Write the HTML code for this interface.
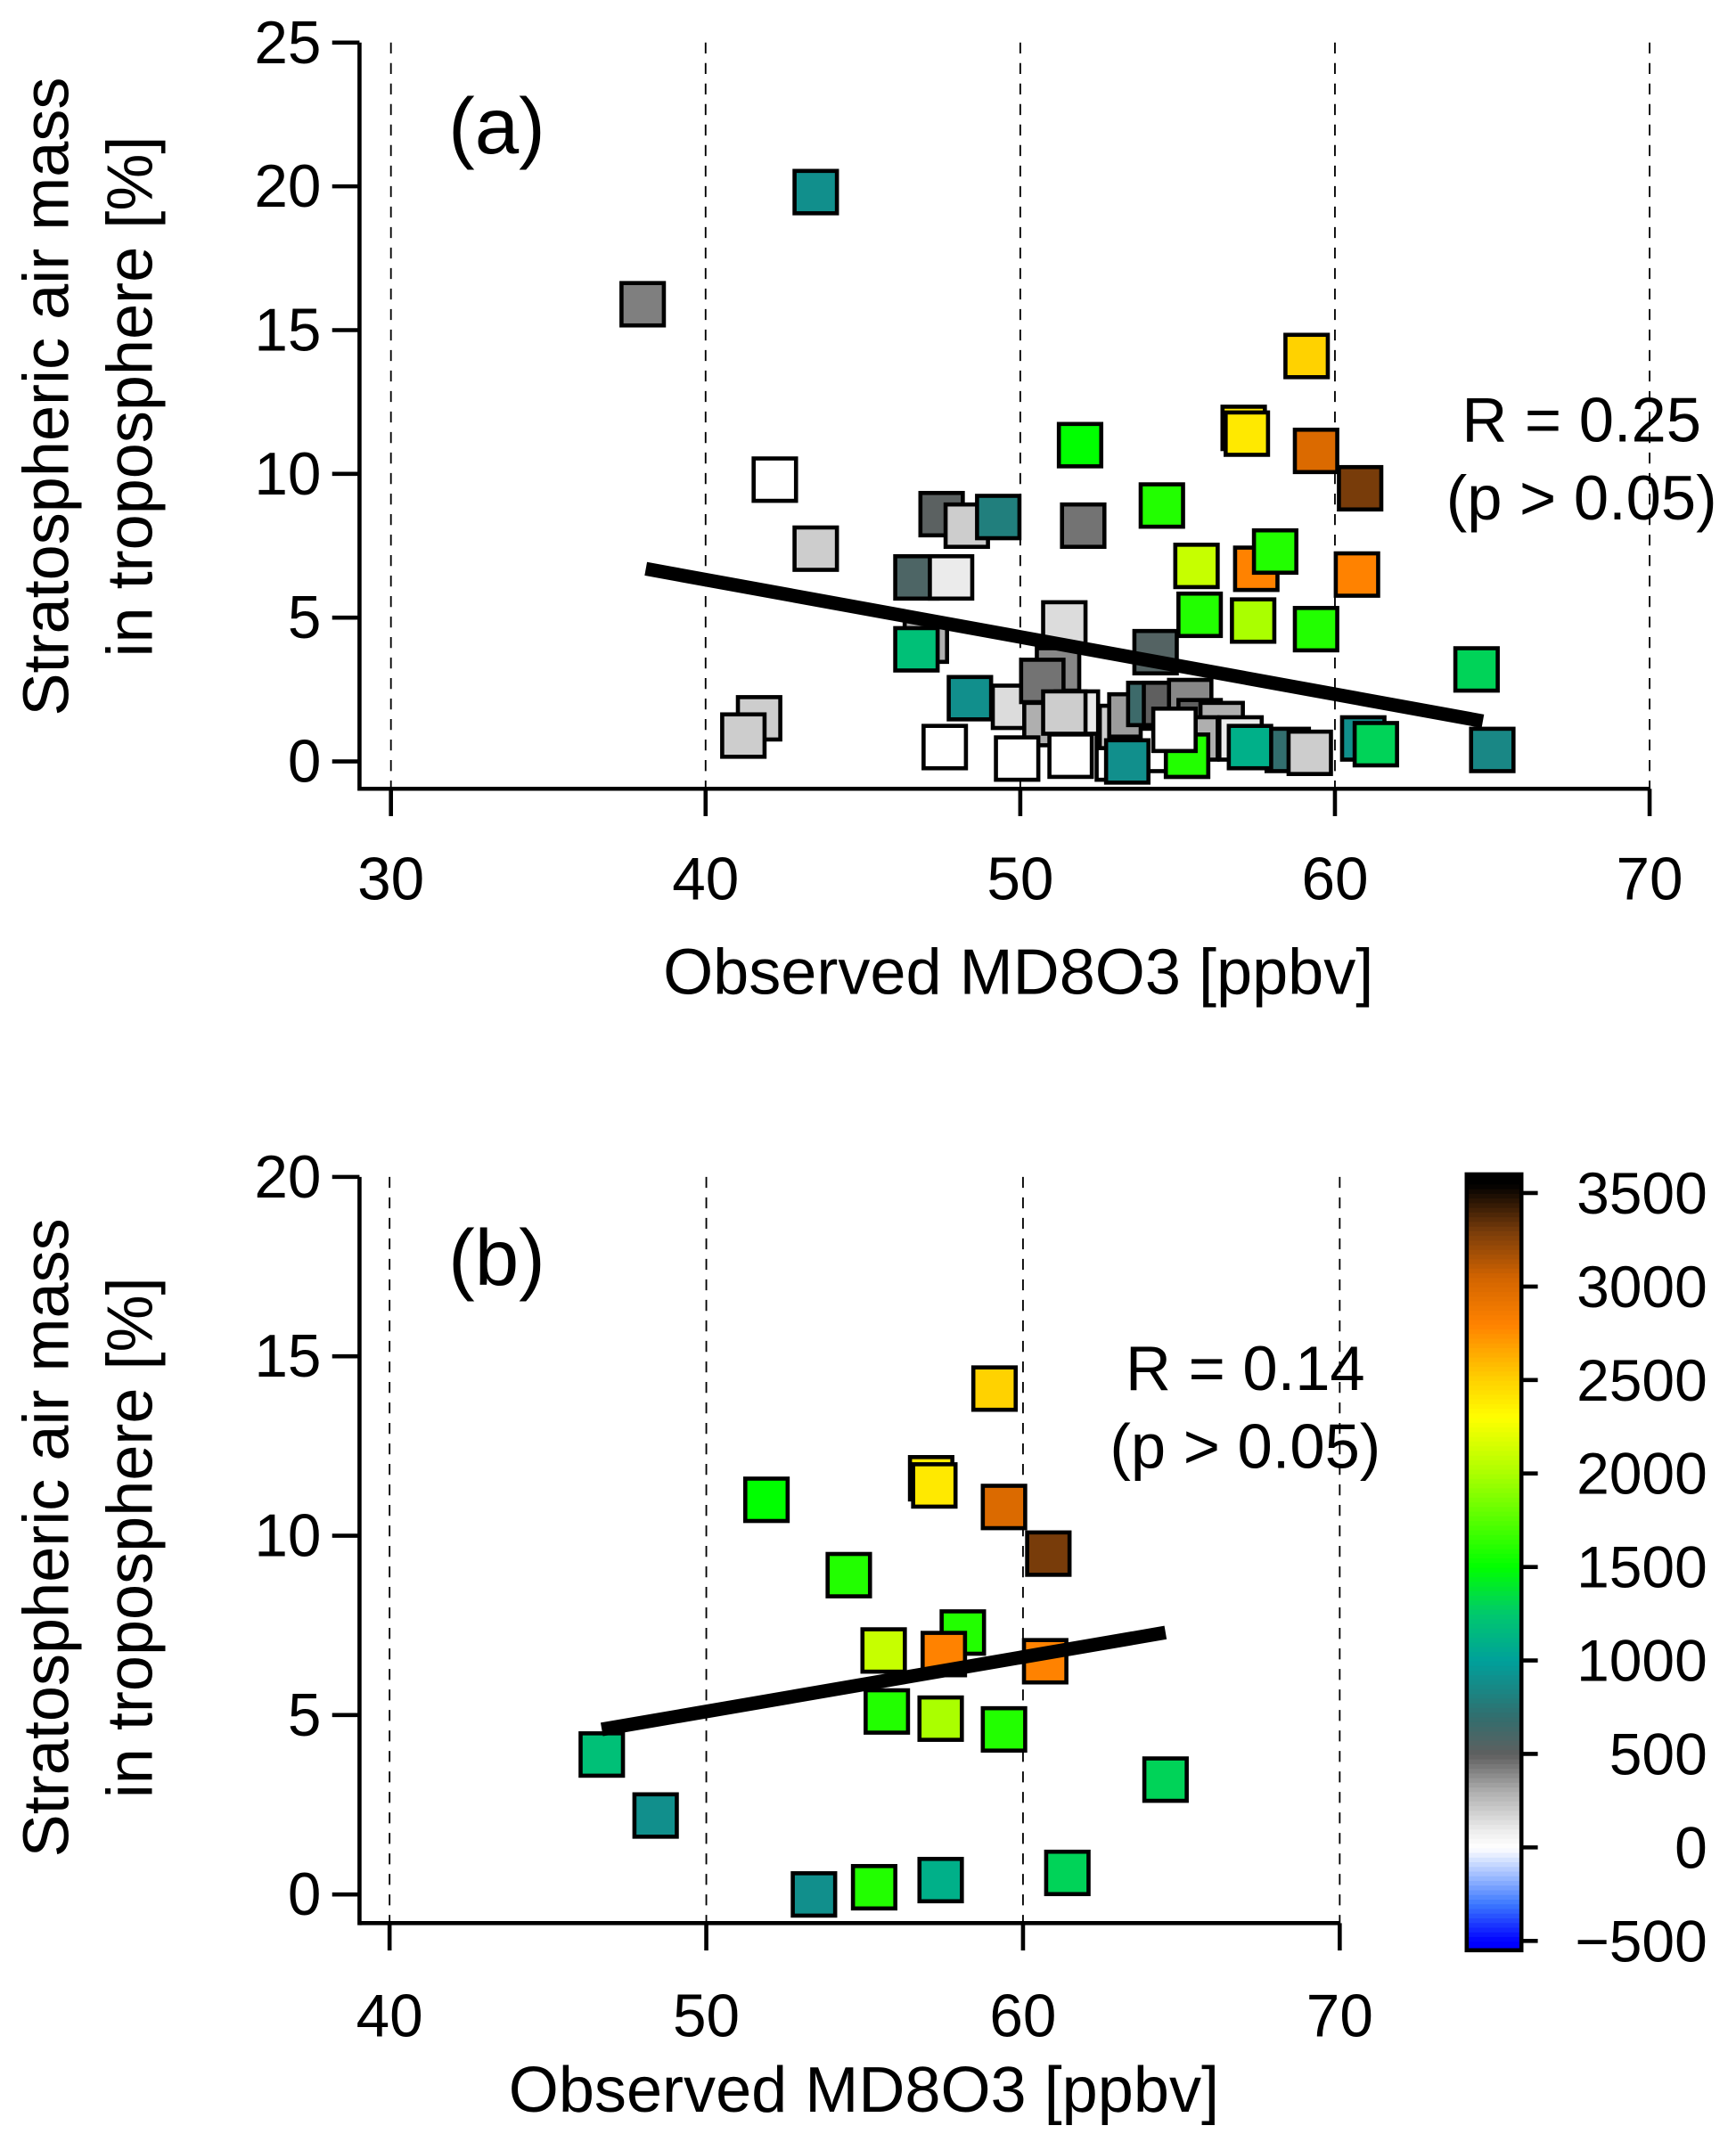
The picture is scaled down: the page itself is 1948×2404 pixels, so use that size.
<!DOCTYPE html>
<html><head><meta charset="utf-8"><style>html,body{margin:0;padding:0;background:#fff}svg{display:block}text{font-family:"Liberation Sans",sans-serif;fill:#000}</style></head>
<body>
<svg id="s" width="1948" height="2404" viewBox="0 0 1270 1567" xmlns="http://www.w3.org/2000/svg"></svg>
<script>
// Panel (a) data: x = observed MD8O3, y = strat air %, c = colour value
const aX=[38,42.2,43.5,41.7,41.2,47.5,48.3,46.7,47.8,47,47.6,49.8,51.4,51.2,50.7,50.8,51.8,52.0,51.4,51.6,49.9,53.1,53.2,53.5,54.3,54.1,54.6,55.4,55.7,55.3,54.5,56.4,57,55.6,58.5,59.2,60.9,65,57.3,43.5,49.3,48.4,53.4,55.3,61.3,46.7,51.9,54.5,55.6,55.7,57.1,57.2,57.4,57.5,58.1,59.1,59.4,59.4,60.7,60.8,64.5,54.9];
const aY=[15.9,9.8,7.4,1.5,0.9,8.6,8.2,6.4,6.4,4.2,0.5,1.9,4.8,3.2,2.8,1.3,1.7,8.2,1.7,0.2,0.1,0.1,1.2,1.6,3.8,2.0,2.0,2.1,1.4,0.2,0.4,1.3,0.8,0.8,0.4,0.3,0.8,0.4,0.5,19.8,8.5,2.2,0.0,0.2,0.6,3.9,11.0,8.9,6.8,5.1,11.6,11.4,4.9,6.7,7.3,14.1,10.8,4.6,6.5,9.5,3.2,1.1];
const aC=[420,0,200,200,200,520,200,580,100,300,0,150,150,400,450,300,100,450,200,0,0,0,200,350,550,650,500,400,500,0,0,300,100,300,700,200,900,850,1100,900,800,900,900,1600,1300,1200,1500,1600,2100,1600,2400,2400,2000,2800,1600,2500,3000,1600,2800,3300,1300,0];
// Panel (b) data
const bX=[46.7,48.4,51.9,54.5,57.1,57.2,58.1,55.6,57.5,60.7,55.7,57.4,59.4,59.1,59.4,60.8,64.5,53.4,55.3,57.4,61.4];
const bY=[3.9,2.2,11.0,8.9,11.6,11.4,7.3,6.8,6.7,6.5,5.1,4.9,4.6,14.1,10.8,9.5,3.2,0.0,0.2,0.4,0.6];
const bC=[1200,900,1500,1600,2400,2400,1600,2100,2800,2800,1600,2000,1600,2500,3000,3300,1300,900,1600,1100,1300];
const aXT=[30,40,50,60,70], aYT=[0,5,10,15,20,25];
const bXT=[40,50,60,70], bYT=[0,5,10,15,20];
const cbT=[-500,0,500,1000,1500,2000,2500,3000,3500];
const aFit=[38.1,6.7,64.7,1.4], bFit=[46.7,4.6,64.5,7.3];

const stops=[[-500,0,0,255],[-300,60,120,255],[0,255,255,255],[100,235,235,235],[300,175,175,175],[500,95,95,95],[700,50,110,110],[1000,0,160,155],[1250,0,200,110],[1500,0,255,0],[2000,170,255,0],[2300,255,255,0],[2500,255,210,0],[2800,255,130,0],[3050,210,100,0],[3300,120,60,10],[3550,0,0,0]];
function col(v){for(let i=0;i<stops.length-1;i++){const a=stops[i],b=stops[i+1];if(v<=b[0]){const t=Math.max(0,(v-a[0])/(b[0]-a[0]));return `rgb(${Math.round(a[1]+(b[1]-a[1])*t)},${Math.round(a[2]+(b[2]-a[2])*t)},${Math.round(a[3]+(b[3]-a[3])*t)})`;}}return 'rgb(0,0,0)';}
const S=document.getElementById('s'),NS='http://www.w3.org/2000/svg';
function el(t,at,txt){const e=document.createElementNS(NS,t);for(const k in at)e.setAttribute(k,at[k]);if(txt!==undefined)e.textContent=txt;S.appendChild(e);return e;}

function panel(p){
 const sx=v=>p.x0+(v-p.xt[0])*p.kx, sy=v=>p.y0-v*p.ky;
 const top=sy(p.yt[p.yt.length-1]);
 p.xt.forEach(v=>{const g=el('line',{x1:sx(v),x2:sx(v),y1:top,y2:p.axY,stroke:'#000','stroke-width':1.2,'stroke-dasharray':'8,7'});
  
  
  const t=el('line',{x1:sx(v),x2:sx(v),y1:p.axY,y2:p.axY+20,stroke:'#000','stroke-width':3});
  
  
  const l=el('text',{x:sx(v),y:p.axY+p.tlOff,'font-size':44,'text-anchor':'middle'},String(v));
  
  });
 p.yt.forEach(v=>{const t=el('line',{x1:p.axX-20,x2:p.axX,y1:sy(v),y2:sy(v),stroke:'#000','stroke-width':3});
  
  
  const l=el('text',{x:p.axX-28,y:sy(v)+15,'font-size':44,'text-anchor':'end'},String(v));
  
  });
 const ya=el('line',{x1:p.axX,x2:p.axX,y1:top,y2:p.axY+1.5,stroke:'#000','stroke-width':3});
 
 
 const xa=el('line',{x1:p.axX,x2:sx(p.xt[p.xt.length-1]),y1:p.axY,y2:p.axY,stroke:'#000','stroke-width':3});
 
 
 const s=31;
 p.X.forEach((x,i)=>{const r=el('rect',{x:sx(x)-s/2,y:sy(p.Y[i])-s/2,width:s,height:s,fill:col(p.C[i]),stroke:'#000','stroke-width':3});
  
  });
 const f=el('line',{x1:sx(p.fit[0]),y1:sy(p.fit[1]),x2:sx(p.fit[2]),y2:sy(p.fit[3]),stroke:'#000','stroke-width':10});
 
 
 const cy=p.ytc;
 const t1=el('text',{transform:`translate(50,${cy}) rotate(-90)`,'font-size':47,'text-anchor':'middle'},'Stratospheric air mass');
 
 
 const t2=el('text',{transform:`translate(111,${cy}) rotate(-90)`,'font-size':47,'text-anchor':'middle'},'in troposphere [%]');
 
 
 const xt=el('text',{x:p.xtitleX,y:p.axY+p.ttOff,'font-size':47,'text-anchor':'middle'},'Observed MD8O3 [ppbv]');
 
 
 const pl=el('text',{x:328,y:p.lblY,'font-size':58},p.lbl);
 
 
 const r1=el('text',{x:p.rX,y:p.rY,'font-size':46,'text-anchor':'middle'},p.r);
 
 
 const r2=el('text',{x:p.rX,y:p.rY+57,'font-size':46,'text-anchor':'middle'},'(p > 0.05)');
 
 
}
panel({X:aX,Y:aY,C:aC,xt:aXT,yt:aYT,x0:286,kx:23.02,y0:557,ky:21.04,axX:263,axY:577,fit:aFit,xtitleX:745,lbl:'(a)',lblY:112,r:'R = 0.25',rX:1157,rY:323,tlOff:81,ttOff:150,ytc:290});
panel({X:bX,Y:bY,C:bC,xt:bXT,yt:bYT,x0:285,kx:23.17,y0:1386,ky:26.25,axX:263,axY:1407,fit:bFit,xtitleX:632,lbl:'(b)',lblY:940,r:'R = 0.14',rX:911,rY:1017,tlOff:83,ttOff:138,ytc:1125});

// colorbar
const cb0=1420, ck=68.4/500, cbx=1073, cbw=40;
const cys=v=>cb0-(v+500)*ck;
for(let v=-550;v<3600;v+=25){const r=el('rect',{x:cbx,y:cys(v+25),width:cbw,height:25*ck+0.6,fill:col(v+12.5)});
 
 }
const cf=el('rect',{x:cbx,y:cys(3600),width:cbw,height:cys(-550)-cys(3600),fill:'none',stroke:'#000','stroke-width':3});


cbT.forEach(v=>{const t=el('line',{x1:cbx+cbw,x2:cbx+cbw+12,y1:cys(v),y2:cys(v),stroke:'#000','stroke-width':3});
 
 
 const l=el('text',{x:1249,y:cys(v)+15,'font-size':43,'text-anchor':'end'},v<0?'\u2212'+(-v):String(v));
 
 });
</script>
</body></html>
